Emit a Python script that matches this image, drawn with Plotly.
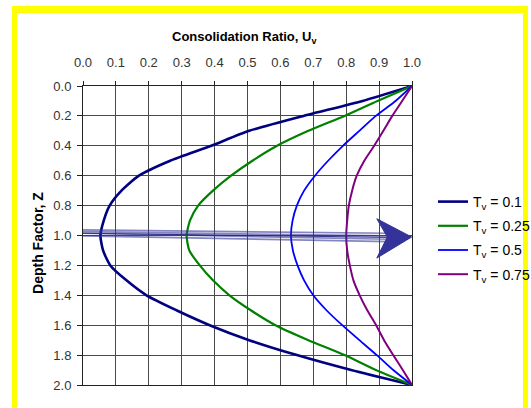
import plotly.graph_objects as go

# Depth factor Z = z / H_dr (0 = top drainage boundary, 2 = bottom drainage boundary)
depth = [0.0, 0.1, 0.2, 0.3, 0.4, 0.5, 0.6, 0.7, 0.8, 0.9, 1.0,
         1.1, 1.2, 1.3, 1.4, 1.5, 1.6, 1.7, 1.8, 1.9, 2.0]

# Consolidation ratio U_z along the depth for each time factor T_v
u_tv_010 = [1.0, 0.85, 0.67, 0.505, 0.39, 0.265, 0.17, 0.117, 0.081, 0.063, 0.053,
            0.061, 0.083, 0.132, 0.193, 0.284, 0.385, 0.505, 0.65, 0.815, 1.0]
u_tv_025 = [1.0, 0.895, 0.795, 0.685, 0.59, 0.515, 0.45, 0.395, 0.35, 0.325, 0.315,
            0.323, 0.355, 0.395, 0.445, 0.51, 0.585, 0.685, 0.795, 0.89, 1.0]
u_tv_050 = [1.0, 0.95, 0.89, 0.84, 0.79, 0.745, 0.705, 0.672, 0.65, 0.637, 0.632,
            0.638, 0.652, 0.672, 0.700, 0.740, 0.788, 0.840, 0.893, 0.943, 1.0]
u_tv_075 = [1.0, 0.97, 0.94, 0.913, 0.885, 0.855, 0.832, 0.818, 0.808, 0.803, 0.80,
            0.803, 0.811, 0.822, 0.841, 0.864, 0.891, 0.915, 0.943, 0.972, 1.0]

series_names = ["T<sub>v</sub> = 0.1", "T<sub>v</sub> = 0.25",
                "T<sub>v</sub> = 0.5", "T<sub>v</sub> = 0.75"]
series_values = [u_tv_010, u_tv_025, u_tv_050, u_tv_075]
series_colors = ["#000080", "#008000", "#0000FF", "#800080"]
series_widths = [2.6, 2.2, 1.8, 2.0]

x_ticks = [0.0, 0.1, 0.2, 0.3, 0.4, 0.5, 0.6, 0.7, 0.8, 0.9, 1.0]
y_ticks = [0.0, 0.2, 0.4, 0.6, 0.8, 1.0, 1.2, 1.4, 1.6, 1.8, 2.0]

W, H = 531, 408
ML, MR, MT, MB = 83, 119, 86, 23
PW, PH = W - ML - MR, H - MT - MB


def px_x(px):
    return (px - ML) / PW


def px_y(py):
    return (H - MB - py) / PH


FONT = "Liberation Sans, Arial, sans-serif"

fig = go.Figure()
for name, vals, col, wd in zip(series_names, series_values, series_colors, series_widths):
    fig.add_trace(go.Scatter(
        x=vals, y=depth, mode="lines", name=name, legendgroup=name,
        line=dict(color=col, width=wd, shape="spline", smoothing=0.6),
    ))

shapes = []
# yellow frame around the figure
yellow = "#FFFF00"
for x0, x1, y0, y1 in [(12, 17, 6, 420), (523, 528, 6, 420), (12, 528, 6, 13)]:
    shapes.append(dict(type="rect", xref="paper", yref="paper",
                       x0=px_x(x0), x1=px_x(x1), y0=px_y(y1), y1=px_y(y0),
                       fillcolor=yellow, line=dict(width=0), layer="below"))

# arrow at mid-depth pointing towards the drainage direction
shaft = [(0.963, 0.985), (0.974, 1.003), (0.985, 1.025), (1.003, 1.041)]
for y_start, y_end in shaft:
    shapes.append(dict(type="line", xref="x", yref="y", x0=0.0, x1=0.93,
                       y0=y_start, y1=y_end,
                       line=dict(color="rgba(51,51,153,0.6)", width=1.7)))
shapes.append(dict(type="line", xref="x", yref="y", x0=0.0, x1=0.93,
                   y0=0.985, y1=1.012,
                   line=dict(color="rgba(40,40,130,0.9)", width=1.2)))
shapes.append(dict(type="path", xref="x", yref="y",
                   path="M 0.999,1.01 L 0.893,0.888 L 0.925,1.01 L 0.893,1.151 Z",
                   fillcolor="#333399", line=dict(color="#333399", width=1)))

grid_col = "#4a4a4a"
fig.update_layout(
    width=W, height=H, autosize=False,
    margin=dict(l=ML, r=MR, t=MT, b=MB, pad=0, autoexpand=False),
    paper_bgcolor="white", plot_bgcolor="white",
    font=dict(family=FONT, color="#222"),
    showlegend=True,
    legend=dict(x=px_x(433), y=px_y(186), xanchor="left", yanchor="top",
                font=dict(size=14, color="#000"), bgcolor="rgba(0,0,0,0)",
                tracegroupgap=3, itemwidth=30),
    xaxis=dict(side="top", range=[0, 1], tickvals=x_ticks, tickformat=".1f",
               showgrid=True, gridcolor=grid_col, gridwidth=1,
               showline=True, linecolor="#222", linewidth=1, mirror=True,
               ticks="outside", ticklen=4, tickcolor="#222", ticklabelstandoff=9,
               tickfont=dict(size=13, color="#333"), zeroline=False),
    yaxis=dict(range=[2, 0], tickvals=y_ticks, tickformat=".1f",
               showgrid=True, gridcolor=grid_col, gridwidth=1,
               showline=True, linecolor="#222", linewidth=1, mirror=True,
               ticks="outside", ticklen=5, tickcolor="#222", ticklabelstandoff=3,
               tickfont=dict(size=13, color="#333"), zeroline=False),
    shapes=shapes,
    annotations=[
        dict(text="<b>Consolidation Ratio, U<sub>v</sub></b>", xref="paper", yref="paper",
             x=0.49, y=1, yshift=49, showarrow=False, xanchor="center", yanchor="middle",
             font=dict(size=13, color="#000")),
        dict(text="<b>Depth Factor, Z</b>", xref="paper", yref="paper",
             x=0, xshift=-45, y=0.475, textangle=-90, showarrow=False,
             xanchor="center", yanchor="middle", font=dict(size=14, color="#000")),
    ],
)

fig.write_html("out.html")
